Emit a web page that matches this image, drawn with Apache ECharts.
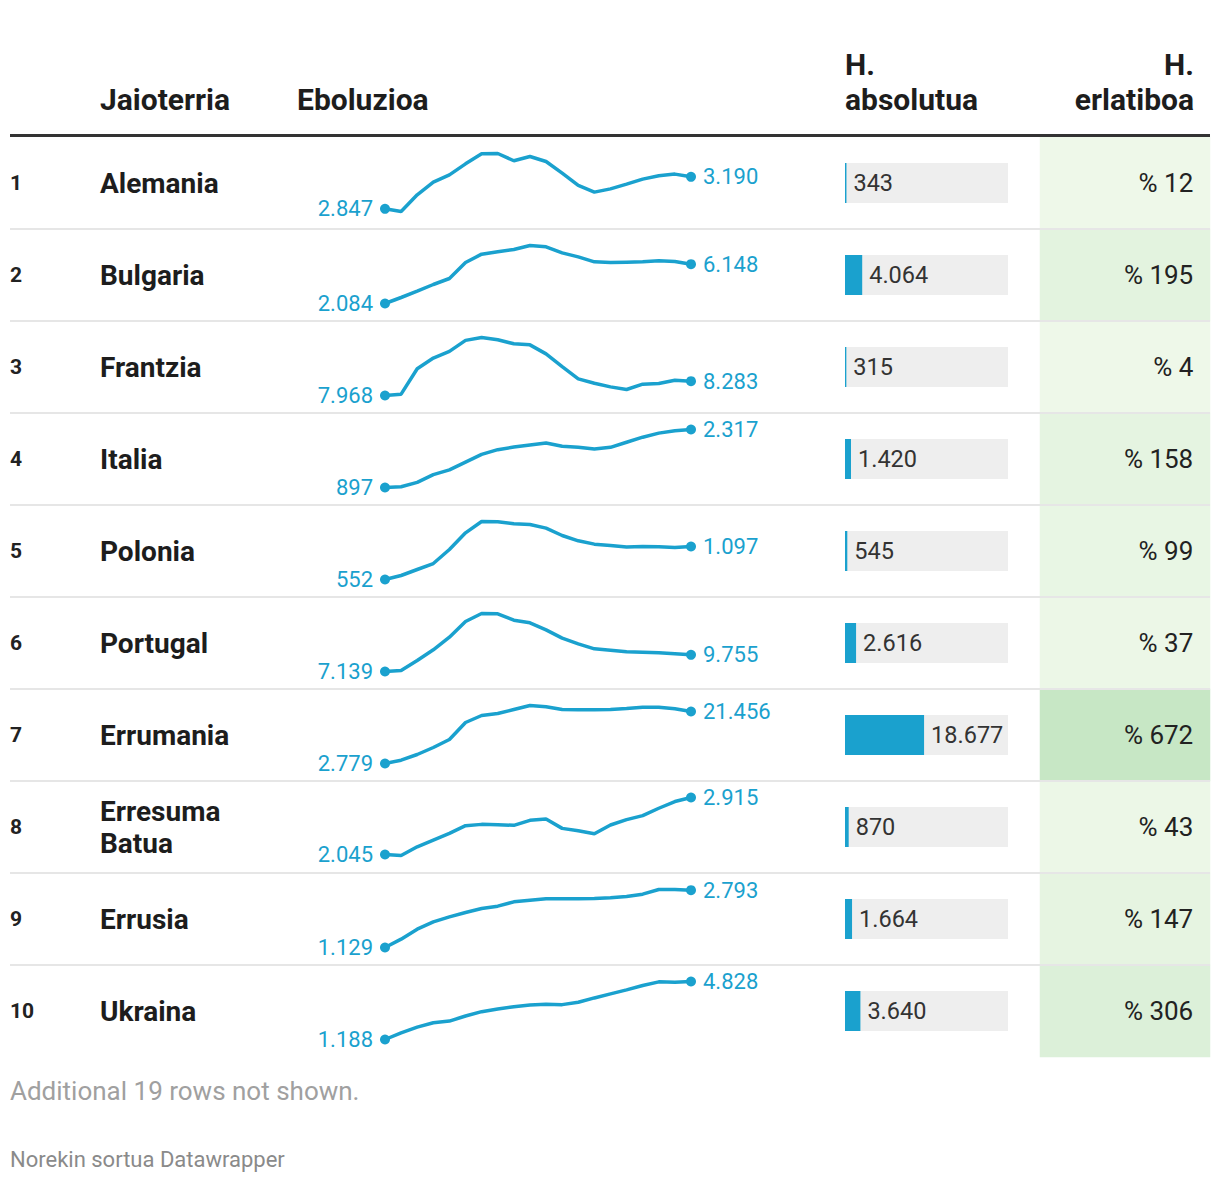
<!DOCTYPE html>
<html>
<head>
<meta charset="utf-8">
<script src="https://cdn.jsdelivr.net/npm/echarts@6/dist/echarts.min.js"></script>
<style>
html,body{margin:0;padding:0;background:#fff;}
#c{width:1220px;height:1182px;}
</style>
</head>
<body>
<div id="c"></div>
<script>
// ---- data ----
const ranks = ['1','2','3','4','5','6','7','8','9','10'];
const countries = ['Alemania','Bulgaria','Frantzia','Italia','Polonia','Portugal','Errumania','Erresuma\nBatua','Errusia','Ukraina'];
const years = ['2002','2003','2004','2005','2006','2007','2008','2009','2010','2011','2012','2013','2014','2015','2016','2017','2018','2019','2020','2021'];
const alemania  = [2847,2818,2997,3133,3211,3329,3437,3440,3362,3408,3354,3229,3097,3026,3061,3111,3165,3201,3219,3190];
const bulgaria  = [2084,2704,3358,4047,4667,6320,7181,7422,7663,8077,7939,7319,6906,6389,6320,6355,6389,6492,6423,6148];
const frantzia  = [7968,7997,8556,8791,8938,9180,9243,9192,9104,9081,8883,8604,8333,8238,8158,8100,8217,8232,8305,8283];
const italia    = [897,914,1021,1211,1327,1517,1707,1823,1888,1938,1988,1906,1881,1840,1881,2005,2129,2228,2286,2317];
const polonia   = [552,618,717,816,1047,1323,1510,1505,1472,1461,1400,1279,1191,1136,1114,1087,1097,1092,1081,1097];
const portugal  = [7139,7296,8866,10540,12528,14987,16243,16191,15197,14778,13680,12372,11482,10697,10488,10227,10174,10070,9913,9755];
const errumania = [2779,3976,6011,8525,11398,17502,20016,20734,22170,23607,23128,22170,22051,22051,22170,22529,23008,23008,22409,21456];
const erresuma  = [2045,2030,2163,2265,2367,2485,2505,2500,2490,2567,2588,2444,2408,2362,2495,2577,2638,2751,2853,2915];
const errusia   = [1129,1371,1661,1874,2019,2145,2261,2329,2455,2503,2542,2542,2542,2552,2571,2610,2677,2813,2813,2793];
const ukraina   = [1188,1609,1966,2240,2345,2661,2934,3102,3250,3355,3397,3376,3523,3797,4049,4302,4575,4806,4785,4828];
const sparkSeries = [alemania,bulgaria,frantzia,italia,polonia,portugal,errumania,erresuma,errusia,ukraina];
const absChange = [343,4064,315,1420,545,2616,18677,870,1664,3640];
const relChange = [12,195,4,158,99,37,672,43,147,306];
const headerCountry = 'Jaioterria';
const headerEvo = 'Eboluzioa';
const headerAbs = ['H.','absolutua'];
const headerRel = ['H.','erlatiboa'];
const footNote = 'Additional 19 rows not shown.';
const credit = 'Norekin sortua Datawrapper';

// ---- layout/style ----
const FONT = 'Roboto, "Noto Sans", sans-serif';
const BLUE = '#1aa1ce';
const TOP = 137, ROW = 92, NROW = ranks.length;
const fmt = v => String(v).replace(/\B(?=(\d{3})+(?!\d))/g, '.');

const grids = [], xAxes = [], yAxes = [], series = [];

// sparkline grids
sparkSeries.forEach((vals, i) => {
  grids.push({left: 385, width: 306, top: TOP + i*ROW + 16.5, height: 58});
  xAxes.push({type:'category', gridIndex:i, data: years, boundaryGap:false, show:false});
  yAxes.push({type:'value', gridIndex:i, min:'dataMin', max:'dataMax', show:false, scale:true});
  const last = vals.length - 1;
  series.push({
    type:'line', xAxisIndex:i, yAxisIndex:i, clip:false, silent:true,
    showAllSymbol:true, symbol:'circle',
    symbolSize:(v,p)=> (p.dataIndex===0 || p.dataIndex===last) ? 10 : 0,
    lineStyle:{color:BLUE, width:3.5}, itemStyle:{color:BLUE},
    data: vals.map((v,j)=>({
      value:v,
      label:{show: j===0 || j===last, position: j===0 ? 'left' : 'right', distance:7,
             formatter: p => fmt(p.value), color:BLUE, fontSize:22, fontFamily:FONT}
    })),
    animation:false
  });
});

// bar grid (absolute change) + row labels
const gB = grids.length;
grids.push({left:845, width:163, top:TOP, height:ROW*NROW});
xAxes.push({type:'value', gridIndex:gB, min:0, max:38500, show:false});
const yB = yAxes.length;
yAxes.push({type:'category', gridIndex:gB, data:ranks, inverse:true,
  axisLine:{show:false}, axisTick:{show:false}, splitLine:{show:false},
  axisLabel:{interval:0, align:'left', margin:835, fontSize:21, fontWeight:'bold', color:'#222', fontFamily:FONT}});
yAxes.push({type:'category', gridIndex:gB, data:countries, inverse:true, position:'left',
  axisLine:{show:false}, axisTick:{show:false}, splitLine:{show:false},
  axisLabel:{interval:0, align:'left', margin:745, fontSize:28, fontWeight:'bold', color:'#1d1d1d', lineHeight:32, fontFamily:FONT}});
series.push({
  type:'bar', xAxisIndex:xAxes.length-1, yAxisIndex:yB, barWidth:40,
  data:absChange, itemStyle:{color:BLUE},
  showBackground:true, backgroundStyle:{color:'#eeeeee'},
  label:{show:true, position:'right', distance:7, formatter:p=>fmt(p.value), color:'#333', fontSize:23.5, fontFamily:FONT},
  animation:false, silent:true
});

// heatmap grid (relative change)
const gC = grids.length;
grids.push({left:1040, width:170, top:TOP, height:ROW*NROW});
xAxes.push({type:'category', gridIndex:gC, data:['rel'], show:false});
yAxes.push({type:'category', gridIndex:gC, data:ranks, inverse:true, show:false});
const hmIndex = series.length;
series.push({
  type:'heatmap', xAxisIndex:xAxes.length-1, yAxisIndex:yAxes.length-1,
  data: relChange.map((v,i)=>[0,i,v]),
  label:{show:true, position:'insideRight', distance:17, formatter:p=>'% ' + p.value[2], color:'#222', fontSize:26, fontFamily:FONT},
  animation:false, silent:true
});

// graphics: headers, rules, footer
const graphic = [];
const HF = 30;
const hStyle = t => ({text:t, fill:'#1d1d1d', fontSize:HF, fontWeight:'bold', fontFamily:FONT});
graphic.push({type:'text', left:100, top:84, style:hStyle(headerCountry)});
graphic.push({type:'text', left:297, top:84, style:hStyle(headerEvo)});
graphic.push({type:'text', left:845, top:49, style:hStyle(headerAbs[0])});
graphic.push({type:'text', left:845, top:84, style:hStyle(headerAbs[1])});
graphic.push({type:'text', right:26, top:49, style:hStyle(headerRel[0])});
graphic.push({type:'text', right:26, top:84, style:hStyle(headerRel[1])});
for (let k=1;k<NROW;k++){
  graphic.push({type:'line', z:50, shape:{x1:10,y1:TOP+k*ROW,x2:1210,y2:TOP+k*ROW}, style:{stroke:'#e6e6e6', lineWidth:2}});
}
graphic.push({type:'line', z:60, shape:{x1:10,y1:135.5,x2:1210,y2:135.5}, style:{stroke:'#333', lineWidth:3}});
graphic.push({type:'text', left:10, top:1078, style:{text:footNote, fill:'#a0a0a0', fontSize:26, fontFamily:FONT}});
graphic.push({type:'text', left:10, top:1148, style:{text:credit, fill:'#8a8a8a', fontSize:22, fontFamily:FONT}});

const chart = echarts.init(document.getElementById('c'), null, {renderer:'svg'});
chart.setOption({
  backgroundColor:'#fff',
  animation:false,
  grid:grids, xAxis:xAxes, yAxis:yAxes, series:series,
  visualMap:{type:'continuous', show:false, seriesIndex:hmIndex, dimension:2, min:4, max:672,
    inRange:{color:['#eef8e9','#c7e7c5']}},
  graphic:graphic
});
</script>
</body>
</html>
